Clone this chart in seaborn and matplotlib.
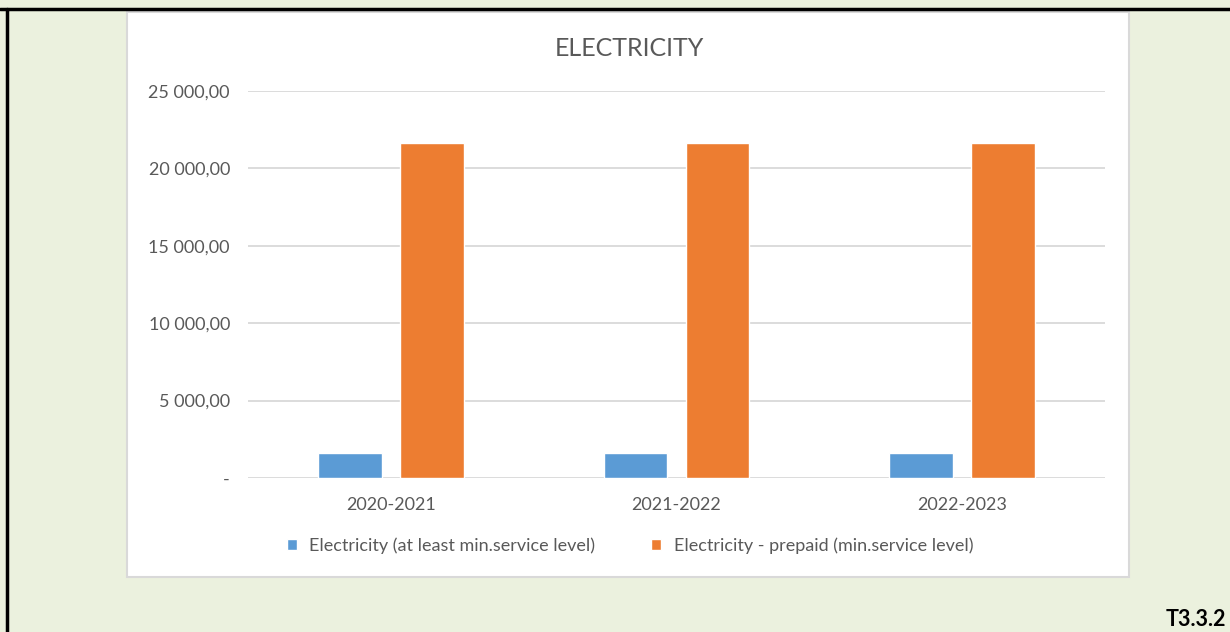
import matplotlib
matplotlib.use("Agg")
import matplotlib.pyplot as plt
import seaborn as sns
import pandas as pd
from matplotlib.lines import Line2D
from matplotlib.patches import Rectangle
from matplotlib.ticker import FuncFormatter

periods = ["2020-2021", "2021-2022", "2022-2023"]
series_names = ["Electricity (at least min.service level)",
                "Electricity - prepaid (min.service level)"]
basic_values = [1620, 1620, 1620]
prepaid_values = [21650, 21650, 21650]
colors = ["#5B9BD5", "#ED7D31"]
yticks = [0, 5000, 10000, 15000, 20000, 25000]

df = pd.DataFrame({
    "period": periods * 2,
    "series": [series_names[0]] * 3 + [series_names[1]] * 3,
    "value": basic_values + prepaid_values,
})

sns.set_theme(style="white")
plt.rcParams["font.family"] = ["Lato", "DejaVu Sans"]

W, H = 1230, 632
fig = plt.figure(figsize=(W / 100, H / 100), dpi=100)
fig.patch.set_facecolor("#EBF1DE")

# outer black border lines (top and left)
fig.add_artist(Line2D([0, 1], [1 - 8.5 / H, 1 - 8.5 / H], color="black", lw=2.5, transform=fig.transFigure))
fig.add_artist(Line2D([6.5 / W, 6.5 / W], [0, 1 - 8.5 / H], color="black", lw=2.5, transform=fig.transFigure))

# white chart box
fig.add_artist(Rectangle((127 / W, (H - 577) / H), (1129 - 127) / W, (577 - 12) / H,
                         facecolor="white", edgecolor="#D9D9D9", lw=1.5,
                         transform=fig.transFigure, zorder=0))

ax = fig.add_axes([248 / W, (H - 478) / H, 857 / W, 387 / H])
ax.set_facecolor("white")
sns.barplot(data=df, x="period", y="value", hue="series", palette=colors,
            width=0.574, gap=0.22, ax=ax, saturation=1, errorbar=None)

ax.set_ylim(0, 25000)
ax.set_yticks(yticks)
def fmt(v, pos):
    if v == 0:
        return "-"
    s = f"{int(v):,}".replace(",", " ")
    return s + ",00"
ax.yaxis.set_major_formatter(FuncFormatter(fmt))
ax.grid(axis="y", color="#D9D9D9", lw=1.3)
ax.set_axisbelow(True)
for s in ax.spines.values():
    s.set_visible(False)
ax.set_xlabel("")
ax.set_ylabel("")
ax.tick_params(axis="both", length=0, labelsize=13, colors="#595959")
ax.tick_params(axis="y", pad=13)
ax.tick_params(axis="x", pad=14)

handles, labels = ax.get_legend_handles_labels()
if ax.get_legend() is not None:
    ax.get_legend().remove()
leg = fig.legend(handles, labels, loc="center", bbox_to_anchor=(630 / W, 1 - 546 / H),
                 ncol=2, frameon=False, handlelength=0.55, handleheight=0.55,
                 handletextpad=0.7, columnspacing=3.1, fontsize=13)
for t in leg.get_texts():
    t.set_color("#595959")

fig.text(629 / W, 1 - 48 / H, "ELECTRICITY", ha="center", va="center", fontsize=18, color="#595959")
fig.text(1166 / W, 1 - 619 / H, "T3.3.2", ha="left", va="center", fontsize=15.5, fontweight="bold", color="black")

fig.savefig("out.png", dpi=100, facecolor=fig.get_facecolor())
